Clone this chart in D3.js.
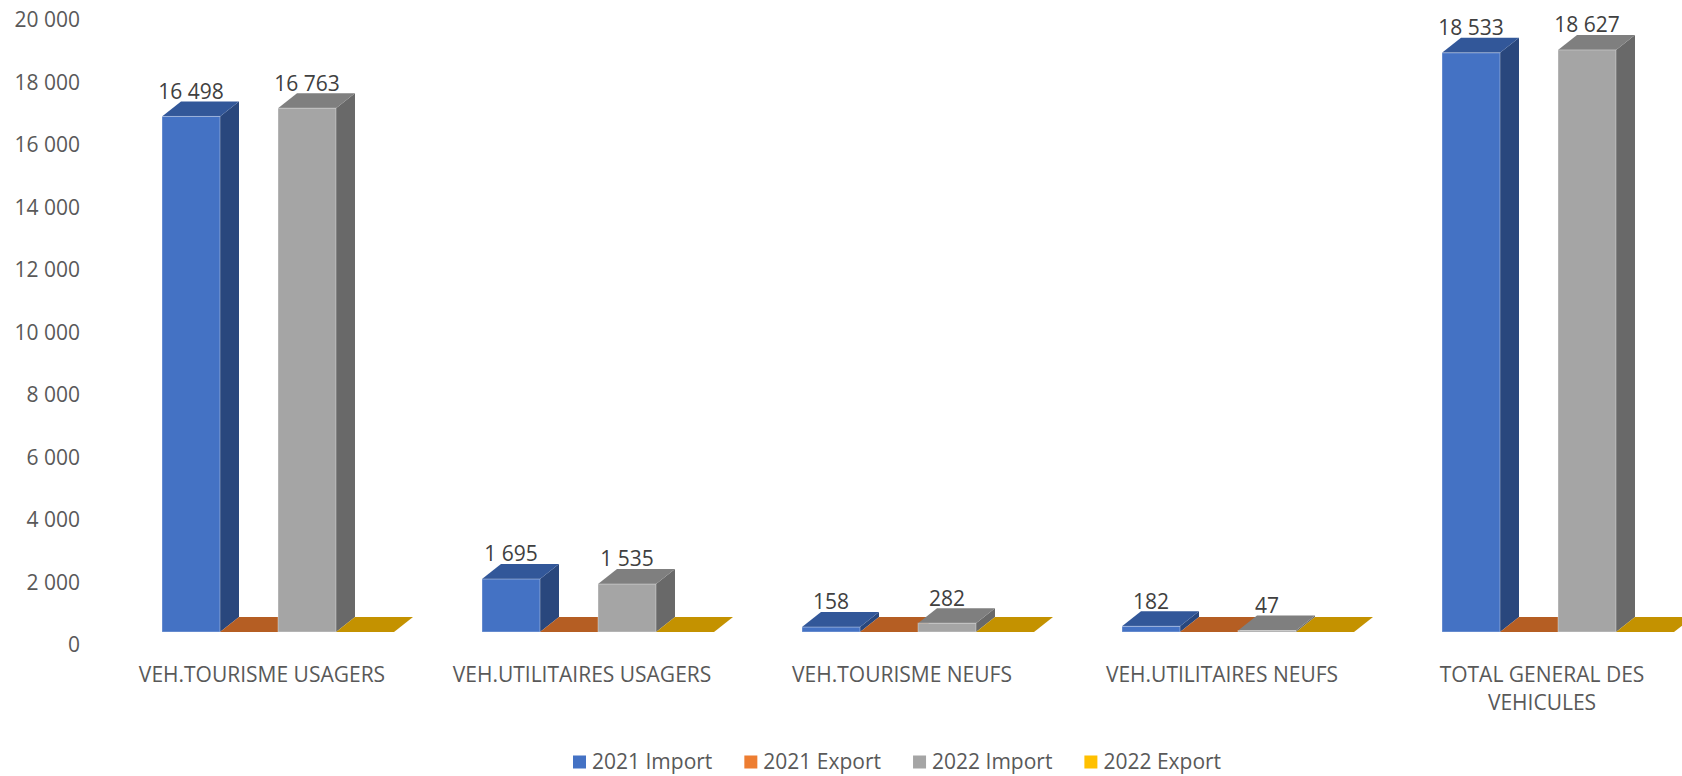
<!DOCTYPE html>
<html>
<head>
<meta charset="utf-8">
<script src="https://cdn.jsdelivr.net/npm/d3@7"></script>
<style>
  body { margin: 0; background: #fff; }
  text { font-family: "Open Sans", Lato, sans-serif; }
</style>
</head>
<body>
<svg id="chart" width="1682" height="776"></svg>
<script>
// data
var categories = ["VEH.TOURISME USAGERS", "VEH.UTILITAIRES USAGERS", "VEH.TOURISME NEUFS", "VEH.UTILITAIRES NEUFS", "TOTAL GENERAL DES VEHICULES"];
var seriesNames = ["2021 Import", "2021 Export", "2022 Import", "2022 Export"];
var import2021 = [16498, 1695, 158, 182, 18533];
var export2021 = [0, 0, 0, 0, 0];
var import2022 = [16763, 1535, 282, 47, 18627];
var export2022 = [0, 0, 0, 0, 0];
var yTicks = [0, 2000, 4000, 6000, 8000, 10000, 12000, 14000, 16000, 18000, 20000];

var seriesValues = [import2021, export2021, import2022, export2022];

// colors: front, side, top, legend
var colors = [
  {front: "#4472c4", side: "#29477d", top: "#325799", legend: "#4472c4", label: true},
  {front: "#ed7d31", side: "#a0521f", top: "#b55e23", legend: "#ed7d31", label: false},
  {front: "#a5a5a5", side: "#696969", top: "#7f7f7f", legend: "#a5a5a5", label: true},
  {front: "#ffc000", side: "#a37a00", top: "#c49200", legend: "#ffc000", label: false}
];

var svg = d3.select("#chart"),
  width = +svg.attr("width"),
  height = +svg.attr("height");

var depthX = 19, depthY = 15;
var fontSize = "21px";

var x0 = d3.scaleBand().domain(categories).range([118, 1718]);
var x1 = d3.scaleBand().domain(seriesNames).range([44, 276]);
var y = d3.scaleLinear().domain([0, 20000]).range([632, 7]);

var fmt = function (d) { return d3.format(",")(d).replace(/,/g, " "); };

// y axis (labels only)
var yAxis = svg.append("g")
  .attr("transform", "translate(80,13)")
  .call(d3.axisLeft(y).tickValues(yTicks).tickSize(0).tickPadding(0).tickFormat(fmt));
yAxis.select(".domain").remove();
yAxis.selectAll("text")
  .style("font-family", "'Open Sans', Lato, sans-serif")
  .style("font-size", fontSize)
  .attr("fill", "#595959");

// bars
var rows = [];
categories.forEach(function (c, i) {
  seriesNames.forEach(function (s, j) {
    rows.push({cat: c, series: s, si: j, value: seriesValues[j][i]});
  });
});

var bars = svg.append("g").selectAll("g.bar")
  .data(rows)
  .enter().append("g")
  .attr("class", "bar");

function pts(arr) { return arr.map(function (p) { return p.join(","); }).join(" "); }

bars.each(function (d) {
  var g = d3.select(this);
  var xl = x0(d.cat) + x1(d.series),
    xr = xl + x1.bandwidth(),
    yb = y(0),
    yt = y(d.value),
    col = colors[d.si];
  // side
  if (d.value > 0) {
    g.append("polygon")
      .attr("points", pts([[xr, yb], [xr + depthX, yb - depthY], [xr + depthX, yt - depthY], [xr, yt]]))
      .attr("fill", col.side);
  }
  // top
  g.append("polygon")
    .attr("points", pts([[xl, yt], [xr, yt], [xr + depthX, yt - depthY], [xl + depthX, yt - depthY]]))
    .attr("fill", col.top);
  // front
  if (d.value > 0) {
    g.append("rect")
      .attr("x", xl)
      .attr("y", yt)
      .attr("width", xr - xl)
      .attr("height", yb - yt)
      .attr("fill", col.front)
      .attr("stroke", "rgba(255,255,255,0.35)")
      .attr("stroke-width", 1);
  }
});

// value labels
svg.append("g").selectAll("text")
  .data(rows.filter(function (d) { return colors[d.si].label; }))
  .enter().append("text")
  .attr("x", function (d) { return x0(d.cat) + x1(d.series) + x1.bandwidth() / 2; })
  .attr("y", function (d) { return y(d.value) - 25; })
  .attr("dy", "0.35em")
  .attr("text-anchor", "middle")
  .attr("fill", "#404040")
  .style("font-size", fontSize)
  .text(function (d) { return fmt(d.value); });

// category labels
var catLabels = svg.append("g").selectAll("text")
  .data(categories)
  .enter().append("text")
  .attr("x", function (d) { return x0(d) + x0.bandwidth() / 2 - 16; })
  .attr("y", 675)
  .attr("dy", "0.35em")
  .attr("text-anchor", "middle")
  .attr("fill", "#595959")
  .style("font-size", fontSize)
  .text(function (d) { return d; });

catLabels.each(function () {
  var t = d3.select(this);
  if (this.getComputedTextLength() > 285) {
    var words = t.text().split(" "), line = [], lines = [];
    words.forEach(function (w) {
      line.push(w);
      t.text(line.join(" "));
      if (t.node().getComputedTextLength() > 285 && line.length > 1) {
        line.pop();
        lines.push(line.join(" "));
        line = [w];
      }
    });
    lines.push(line.join(" "));
    var x = t.attr("x");
    t.text(null);
    lines.forEach(function (l, i) {
      t.append("tspan").attr("x", x).attr("dy", i === 0 ? "0.35em" : "28px").text(l);
    });
  }
});

// legend
var legend = svg.append("g").attr("transform", "translate(573,762)");
var lx = 0;
seriesNames.forEach(function (s, i) {
  var item = legend.append("g").attr("transform", "translate(" + lx + ",0)");
  item.append("rect")
    .attr("x", 0).attr("y", -6.5)
    .attr("width", 13).attr("height", 13)
    .attr("fill", colors[i].legend);
  var t = item.append("text")
    .attr("x", 19)
    .attr("dy", "0.35em")
    .attr("fill", "#595959")
    .style("font-size", fontSize)
    .text(s);
  lx += 19 + t.node().getComputedTextLength() + 32;
});
</script>
</body>
</html>
